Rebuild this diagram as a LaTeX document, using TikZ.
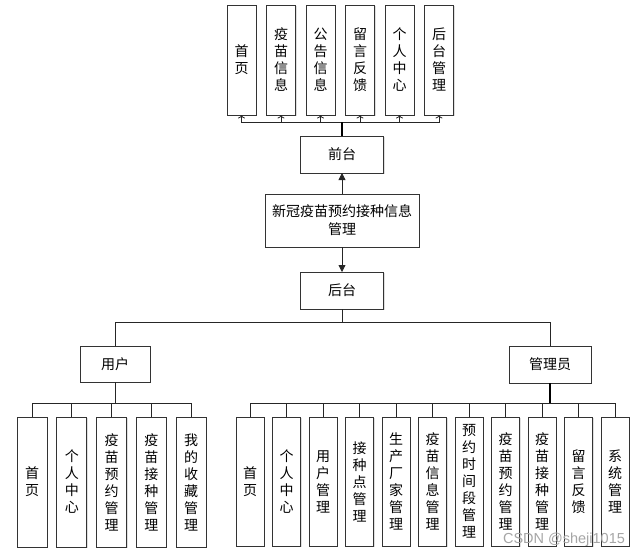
\documentclass[tikz,border=0pt]{standalone}
\usepackage{fontspec}
\newfontfamily\cjk{Noto Sans CJK SC}
\newfontfamily\wmfont{Liberation Sans}
\usetikzlibrary{arrows.meta, positioning, shadows}

\tikzset{
  box/.style={draw=black!80, line width=0.9pt, fill=white, align=center, inner sep=0pt, outer sep=0pt,
    font=\cjk\fontsize{14}{17}\selectfont,
    drop shadow={shadow xshift=1pt, shadow yshift=-1pt, opacity=0.25}},
  hbox/.style={box, minimum width=83pt, minimum height=37pt},
  topbox/.style={box, minimum width=29pt, minimum height=110pt, text width=15pt},
  usrbox/.style={box, minimum width=30pt, minimum height=130pt, text width=15pt},
  admbox/.style={box, minimum width=28pt, minimum height=129pt, text width=15pt},
  link/.style={line width=0.8pt, black!85}
}

\begin{document}
\begin{tikzpicture}[x=1pt, y=-1pt]
  \useasboundingbox (0,0) rectangle (640,557);

  % middle column
  \node (sys) [hbox, minimum width=154pt, minimum height=53pt, font=\cjk\fontsize{14}{18}\selectfont] at (342,220.5) {新冠疫苗预约接种信息\\管理};
  \node (fr) [hbox] at (342,154.5) {前台};
  \node (bk) [hbox] at (342,290.5) {后台};
  \node (usr) [hbox, minimum width=70pt, minimum height=36pt] at (115,364) {用户};
  \node (adm) [hbox, minimum width=82pt, minimum height=37pt] at (550,364.5) {管理员};

  % front end
  \node (t1) [topbox] at (241.5,60) {首\\页};
  \node (t2) [topbox, right=10.5pt of t1] {疫\\苗\\信\\息};
  \node (t3) [topbox, right=10.5pt of t2] {公\\告\\信\\息};
  \node (t4) [topbox, right=10.5pt of t3] {留\\言\\反\\馈};
  \node (t5) [topbox, right=10.5pt of t4] {个\\人\\中\\心};
  \node (t6) [topbox, right=10.5pt of t5] {后\\台\\管\\理};

  % user
  \node (u1) [usrbox] at (32,482) {首\\页};
  \node (u2) [usrbox, right=9.8pt of u1] {个\\人\\中\\心};
  \node (u3) [usrbox, right=9.8pt of u2] {疫\\苗\\预\\约\\管\\理};
  \node (u4) [usrbox, right=9.8pt of u3] {疫\\苗\\接\\种\\管\\理};
  \node (u5) [usrbox, right=9.8pt of u4] {我\\的\\收\\藏\\管\\理};

  % admin
  \node (a1) [admbox] at (250,481.5) {首\\页};
  \node (a2) [admbox, right=8.5pt of a1] {个\\人\\中\\心};
  \node (a3) [admbox, right=8.5pt of a2] {用\\户\\管\\理};
  \node (a4) [admbox, right=8.5pt of a3] {接\\种\\点\\管\\理};
  \node (a5) [admbox, right=8.5pt of a4] {生\\产\\厂\\家\\管\\理};
  \node (a6) [admbox, right=8.5pt of a5] {疫\\苗\\信\\息\\管\\理};
  \node (a7) [admbox, right=8.5pt of a6] {预\\约\\时\\间\\段\\管\\理};
  \node (a8) [admbox, right=8.5pt of a7] {疫\\苗\\预\\约\\管\\理};
  \node (a9) [admbox, right=8.5pt of a8] {疫\\苗\\接\\种\\管\\理};
  \node (a10) [admbox, right=8.5pt of a9] {留\\言\\反\\馈};
  \node (a11) [admbox, right=8.5pt of a10] {系\\统\\管\\理};

  \path[link, -{Triangle[length=7pt, width=7pt]}]
    (sys) edge (fr)
    (sys) edge (bk);

  \foreach \n in {t1,t2,t3,t4,t5,t6}
    \draw[link, -{To[length=3.5pt, width=7pt]}] (fr.north) -- ++(0pt,14pt) -| (\n.south);
  \draw[line width=1.8pt] (fr.north) -- ++(0pt,14pt);

  \draw[link] (usr.north) |- (bk.south |- 0,322) -- (bk.south);
  \draw[link] (adm.north) |- (bk.south |- 0,322);

  \foreach \n in {u1,u2,u3,u4,u5}
    \draw[link] (usr.south) -- ++(0pt,-21pt) -| (\n.north);
  \foreach \n in {a1,a2,a3,a4,a5,a6,a7,a8,a9,a10,a11}
    \draw[link] (adm.south) -- ++(0pt,-20pt) -| (\n.north);
  \draw[line width=1.8pt] (adm.south) -- ++(0pt,-20pt);

  \node (wm) [text=black!35, font=\wmfont\fontsize{14.5}{16}\selectfont] at (564,540) {CSDN @sheji1015};
\end{tikzpicture}
\end{document}
